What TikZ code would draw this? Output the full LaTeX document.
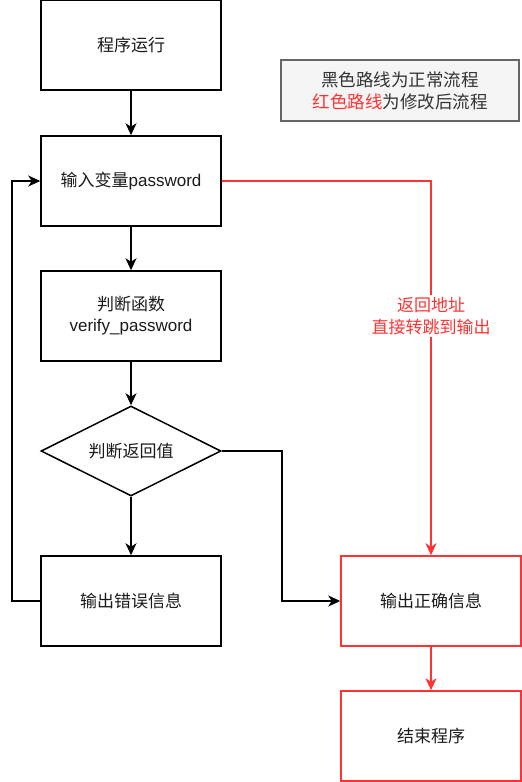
\documentclass[tikz,border=0pt]{standalone}
\usepackage{fontspec}
\setmainfont{Noto Sans CJK SC}
\newfontfamily\lat{Liberation Sans}
\usetikzlibrary{arrows.meta,shapes.geometric}
\definecolor{myred}{HTML}{FF3333}
\definecolor{txt}{HTML}{1A1A1A}
\definecolor{lgfill}{HTML}{F5F5F5}
\definecolor{lgline}{HTML}{666666}
\definecolor{lgtxt}{HTML}{333333}
\tikzset{
  box/.style={draw=black, line width=1.5pt, minimum width=180pt, minimum height=90pt, inner sep=0pt, align=center, text=txt, font=\fontsize{17}{21}\selectfont},
  redbox/.style={box, draw=myred},
  dia/.style={draw=black, line width=1.5pt, diamond, aspect=2, minimum width=180pt, minimum height=90pt, inner sep=0pt, text=txt, font=\fontsize{17}{21}\selectfont},
  legend/.style={draw=lgline, fill=lgfill, line width=1.5pt, minimum width=238pt, minimum height=61pt, inner sep=0pt, align=center, text=lgtxt, font=\fontsize{17.5}{22}\selectfont},
  arr/.style={line width=1.5pt, draw=black, -{Stealth[length=12pt,width=11pt,inset=3.5pt]}},
  redarr/.style={arr, draw=myred, color=myred},
  lbl/.style={fill=white, text=myred, align=center, inner sep=2pt, font=\fontsize{17}{22}\selectfont}
}
\begin{document}
\begin{tikzpicture}[x=1pt,y=-1pt]
\useasboundingbox (0,0) rectangle (522,782);
\node[box] (b1) at (131,45) {程序运行};
\node[box] (b2) at (131,181) {输入变量{\lat password}};
\node[box] (b3) at (131,316) {判断函数\\{\lat verify\_password}};
\node[dia] (d) at (131,451) {判断返回值};
\node[box] (err) at (131,601) {输出错误信息};
\node[redbox] (ok) at (431,601) {输出正确信息};
\node[redbox] (end) at (431,736) {结束程序};
\node[legend] (lg) at (400,90.5) {黑色路线为正常流程\\{\color{myred}红色路线}为修改后流程};
\coordinate (l1) at (12,601);
\coordinate (l2) at (12,181);
\coordinate (r1) at (282,451);
\coordinate (r2) at (282,601);
\coordinate (t1) at (431,181);
\draw[arr] (b1) -- (b2);
\draw[arr] (b2) -- (b3);
\draw[arr] (b3) -- (d);
\draw[arr] (d) -- (err);
\draw[arr] (err.west) -- (l1) -- (l2) -- (b2.west);
\draw[arr] (d.east) -- (r1) -- (r2) -- (ok.west);
\draw[redarr] (b2.east) -- (t1) -- (ok.north) node[lbl, pos=0.36] (lb) {返回地址\\直接转跳到输出};
\draw[redarr] (ok) -- (end);
\end{tikzpicture}
\end{document}
